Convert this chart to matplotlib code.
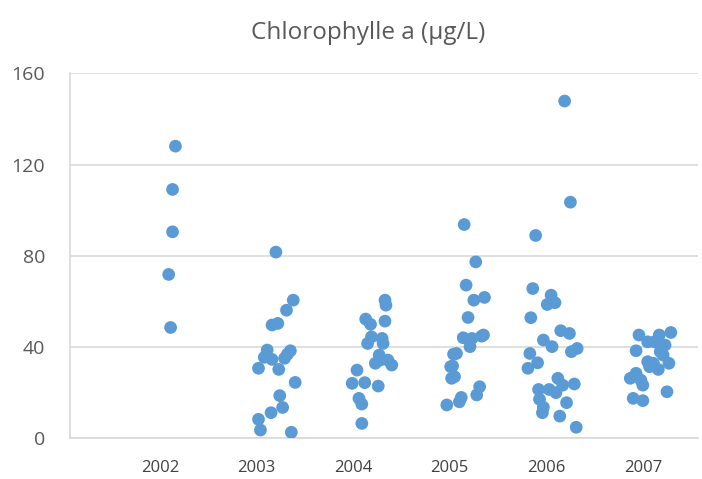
import matplotlib
matplotlib.use('Agg')
import matplotlib.pyplot as plt

# Chlorophylle a per year; x jitter is offset from the year (years units)
years = [2002, 2003, 2004, 2005, 2006, 2007]

jitter_2002 = [0.16, 0.13, 0.13, 0.09, 0.11]
chl_2002 = [128.1, 109.1, 90.5, 71.8, 48.5]

jitter_2003 = [0.20, 0.38, 0.31, 0.22, 0.16, 0.11, 0.35, 0.08, 0.16, 0.29,
               0.32, 0.02, 0.23, 0.40, 0.24, 0.27, 0.15, 0.02, 0.04, 0.36]
chl_2003 = [81.6, 60.5, 56.1, 50.3, 49.6, 38.6, 38.3, 35.4, 34.5, 35.0,
            36.8, 30.6, 30.1, 24.4, 18.6, 13.4, 11.1, 8.2, 3.5, 2.5]

jitter_2004 = [0.33, 0.34, 0.13, 0.18, 0.33, 0.19, 0.30, 0.15, 0.31, 0.27, 0.23,
               0.28, 0.36, 0.40, 0.04, -0.01, 0.12, 0.26, 0.06, 0.09, 0.09]
chl_2004 = [60.5, 58.3, 52.2, 49.9, 51.3, 44.4, 43.7, 41.5, 41.5, 36.4, 32.8,
            34.2, 34.2, 32.0, 29.8, 24.0, 24.3, 22.8, 17.4, 14.9, 6.4]

jitter_2005 = [0.15, 0.27, 0.17, 0.25, 0.36, 0.19, 0.14, 0.23, 0.33, 0.35, 0.21,
               0.07, 0.04, 0.01, 0.03, 0.02, 0.05, 0.31, 0.28, 0.12, 0.10, -0.03]
chl_2005 = [93.7, 77.3, 67.1, 60.5, 61.7, 52.9, 44.0, 43.7, 44.7, 45.2, 40.1,
            37.1, 36.8, 31.3, 31.6, 26.2, 26.9, 22.5, 18.9, 17.8, 15.9, 14.5]

jitter_2006 = [0.19, 0.25, -0.11, -0.14, 0.05, 0.01, 0.09, -0.16, 0.15, 0.24,
               -0.03, 0.06, 0.32, 0.26, -0.17, -0.09, -0.19, 0.12, 0.29, 0.17,
               -0.08, 0.03, 0.10, -0.07, 0.21, -0.03, -0.04, 0.14, 0.31]
chl_2006 = [147.9, 103.5, 88.9, 65.6, 62.7, 58.6, 59.4, 52.8, 47.1, 45.9,
            43.0, 40.1, 39.3, 37.9, 37.1, 33.0, 30.6, 26.2, 23.7, 23.2,
            21.3, 21.3, 19.9, 17.0, 15.5, 13.5, 11.1, 9.6, 4.7]

jitter_2007 = [-0.04, 0.17, 0.29, 0.05, 0.12, 0.23, -0.07, 0.18, 0.21, 0.05, 0.11,
               0.27, 0.16, 0.07, -0.07, -0.13, -0.02, 0.00, 0.25, -0.10, 0.00]
chl_2007 = [45.2, 45.2, 46.3, 42.2, 42.2, 40.8, 38.3, 37.9, 36.4, 33.5, 32.8,
            32.8, 30.1, 31.3, 28.4, 26.2, 25.4, 23.2, 20.3, 17.4, 16.4]

groups = [(jitter_2002, chl_2002), (jitter_2003, chl_2003), (jitter_2004, chl_2004),
          (jitter_2005, chl_2005), (jitter_2006, chl_2006), (jitter_2007, chl_2007)]

grey_text = '#595959'
grid_col = '#D9D9D9'
blue = '#5B9BD5'

fig = plt.figure(figsize=(7.02, 4.79), dpi=100)
ax = fig.add_axes([0.0997, 0.0856, 0.8943, 0.761])

for year, (jit, vals) in zip(years, groups):
    xs = [year + j for j in jit]
    ax.scatter(xs, vals, s=84, color=blue, edgecolors='none', zorder=3)

ax.set_xlim(2001.068, 2007.569)
ax.set_ylim(0, 160)
ax.set_yticks([0, 40, 80, 120, 160])
ax.set_xticks(years)
ax.set_xticklabels([str(y) for y in years])
ax.tick_params(axis='y', length=0, pad=18, labelsize=14, labelcolor=grey_text)
ax.tick_params(axis='x', length=0, pad=16, labelsize=12, labelcolor='#404040')
ax.grid(True, axis='y', color=grid_col, linewidth=1.2)
ax.set_axisbelow(True)
for side in ['top', 'right']:
    ax.spines[side].set_visible(False)
ax.spines['left'].set_color(grid_col)
ax.spines['left'].set_linewidth(1.2)
ax.spines['bottom'].set_color(grid_col)
ax.spines['bottom'].set_linewidth(1.2)

for lab in ax.get_xticklabels() + ax.get_yticklabels():
    lab.set_fontfamily('Open Sans')

fig.text(368 / 702, 1 - 33 / 479, 'Chlorophylle a (µg/L)', ha='center', va='center',
         fontsize=17.5, color=grey_text, family='Open Sans')

fig.savefig('out.png', dpi=100)
